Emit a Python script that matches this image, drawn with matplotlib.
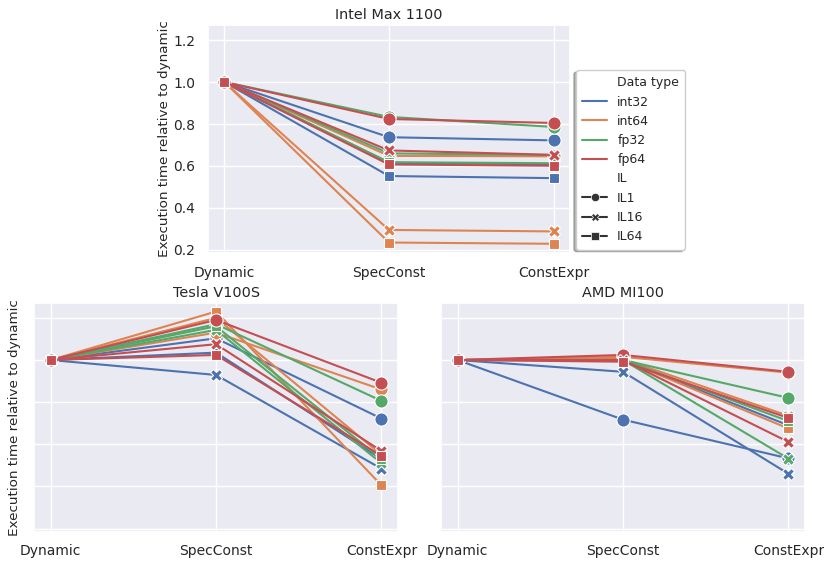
import matplotlib
matplotlib.use("Agg")
import matplotlib.pyplot as plt
from matplotlib.lines import Line2D
import seaborn as sns

sns.set_theme(style="darkgrid")
plt.rcParams['font.family'] = ['DejaVu Sans']

stages = ["Dynamic", "SpecConst", "ConstExpr"]
dtypes = ["int32", "int64", "fp32", "fp64"]
ils = ["IL1", "IL16", "IL64"]

# values per device: dtype -> [IL1, IL16, IL64] each as (Dynamic, SpecConst, ConstExpr)
intel = {
    "int32": [[1.0, 0.737, 0.722], [1.0, 0.615, 0.608], [1.0, 0.552, 0.542]],
    "int64": [[1.0, 0.648, 0.646], [1.0, 0.295, 0.288], [1.0, 0.235, 0.229]],
    "fp32":  [[1.0, 0.834, 0.786], [1.0, 0.660, 0.652], [1.0, 0.618, 0.613]],
    "fp64":  [[1.0, 0.824, 0.805], [1.0, 0.674, 0.653], [1.0, 0.607, 0.601]],
}
tesla = {
    "int32": [[1.0, 1.103, 0.722], [1.0, 0.929, 0.484], [1.0, 1.035, 0.530]],
    "int64": [[1.0, 1.130, 0.860], [1.0, 1.200, 0.550], [1.0, 1.230, 0.405]],
    "fp32":  [[1.0, 1.170, 0.806], [1.0, 1.143, 0.510], [1.0, 1.160, 0.530]],
    "fp64":  [[1.0, 1.190, 0.892], [1.0, 1.075, 0.568], [1.0, 1.024, 0.545]],
}
amd = {
    "int32": [[1.0, 0.717, 0.533], [1.0, 0.944, 0.460], [1.0, 1.000, 0.690]],
    "int64": [[1.0, 1.015, 0.940], [1.0, 1.005, 0.735], [1.0, 1.000, 0.675]],
    "fp32":  [[1.0, 1.000, 0.820], [1.0, 1.000, 0.532], [1.0, 1.000, 0.710]],
    "fp64":  [[1.0, 1.024, 0.944], [1.0, 1.000, 0.611], [1.0, 0.992, 0.725]],
}
devices = [("Intel Max 1100", intel), ("Tesla V100S", tesla), ("AMD MI100", amd)]

colors = dict(zip(dtypes, sns.color_palette("deep", 4)))
markers = dict(zip(ils, ["o", "X", "s"]))
msizes = {"IL1": 9.5, "IL16": 9, "IL64": 7.5}

fig = plt.figure(figsize=(8.24, 5.62), dpi=100)
ax_top = fig.add_axes([0.2524, 0.5498, 0.4393, 0.4057])
ax_bl = fig.add_axes([0.0413, 0.0539, 0.4417, 0.4075])
ax_br = fig.add_axes([0.5352, 0.0539, 0.4417, 0.4075])
axes = [ax_top, ax_bl, ax_br]

x = list(range(len(stages)))
for ax, (title, data) in zip(axes, devices):
    for dt in dtypes:
        for i, il in enumerate(ils):
            ax.plot(x, data[dt][i], color=colors[dt], marker=markers[il],
                    markersize=msizes[il], markeredgecolor="white",
                    markeredgewidth=0.8, linewidth=1.5)
    ax.set_xticks(x)
    ax.set_xticklabels(stages, fontsize=10)
    ax.set_xlim(-0.1, 2.1)
    ax.set_ylim(0.185, 1.272)
    ax.set_yticks([0.2, 0.4, 0.6, 0.8, 1.0, 1.2])
    ax.set_title(title, fontsize=10.4, pad=4)
    ax.tick_params(axis="both", labelsize=10, pad=3)

ax_top.set_ylabel("Execution time relative to dynamic", fontsize=9.7, labelpad=2)
ax_bl.set_ylabel("Execution time relative to dynamic", fontsize=9.7, labelpad=0.5)
ax_bl.set_yticklabels([])
ax_br.set_yticklabels([])

handles = [Line2D([], [], linestyle="none", label="Data type")]
for dt in dtypes:
    handles.append(Line2D([], [], color=colors[dt], linewidth=1.5, label=dt))
handles.append(Line2D([], [], linestyle="none", label="IL"))
for il in ils:
    handles.append(Line2D([], [], color=".2", marker=markers[il], markersize=6,
                          markeredgecolor="white", markeredgewidth=0.5,
                          linewidth=1.5, label=il))
fig.legend(handles=handles, loc="upper left",
           bbox_to_anchor=(576 / 824, 1 - 70 / 562), borderaxespad=0,
           fontsize=9, frameon=True, facecolor="white", edgecolor="0.8",
           framealpha=1, shadow={"ox": -1.5, "oy": -1.5, "alpha": 0.4},
           handlelength=2.0, borderpad=0.5)

fig.savefig("out.png", dpi=100)
